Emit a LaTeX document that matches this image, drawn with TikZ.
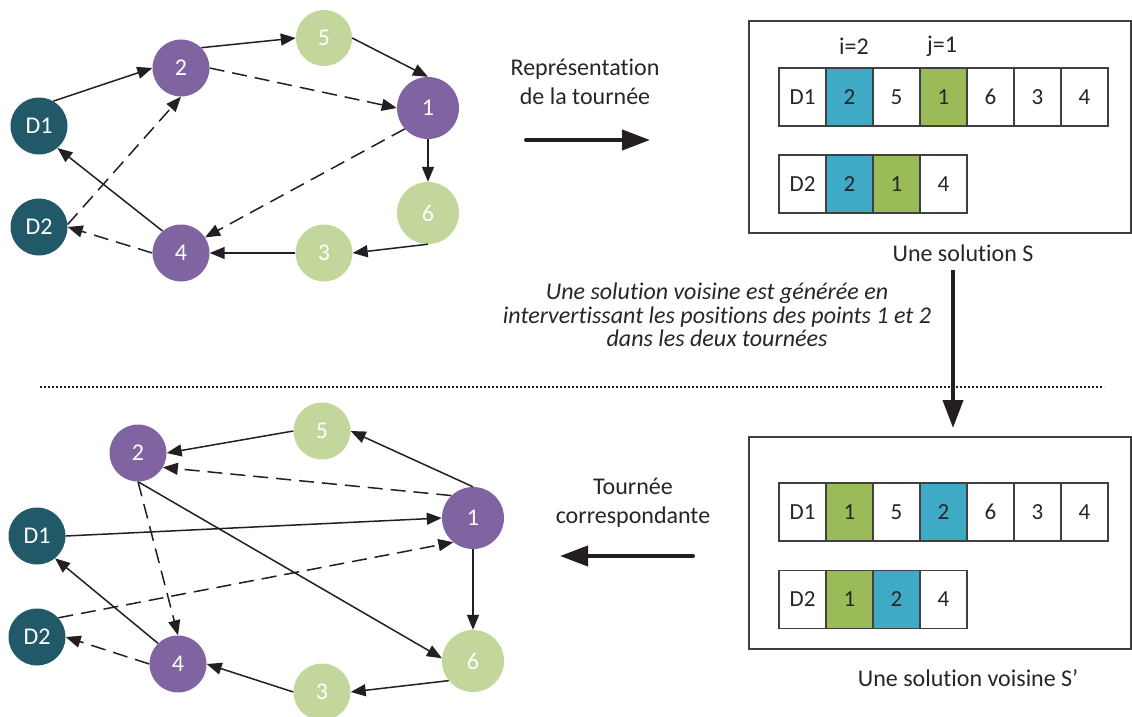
\documentclass[tikz,border=0pt]{standalone}
\usepackage{fontspec}
\setmainfont{Carlito}[Ligatures={NoCommon,NoRare,NoContextual}]
\usetikzlibrary{arrows.meta}
\definecolor{purp}{HTML}{8064A2}
\definecolor{lgreen}{HTML}{C3D69B}
\definecolor{dteal}{HTML}{215968}
\definecolor{cblue}{HTML}{3FAAC6}
\definecolor{cgreen}{HTML}{9BBB59}
\definecolor{ink}{HTML}{231F20}
\definecolor{txt}{HTML}{262626}
\definecolor{frm}{HTML}{404040}
\begin{document}
\begin{tikzpicture}[x=1pt,y=-1pt,
  vert/.style={circle,fill=#1,text=white,inner sep=0pt,font=\fontsize{24}{29}\selectfont},
  small/.style={minimum size=57pt},
  big/.style={minimum size=62pt},
  edge/.style={draw=ink,line width=1.5pt,-{Triangle[length=15pt,width=12pt]}},
  dedge/.style={edge,dash pattern=on 15pt off 8pt},
  cell/.style={draw=frm,line width=1.1pt,minimum width=47pt,minimum height=58pt,inner sep=0pt,font=\fontsize{23}{28}\selectfont,text=txt},
  frame/.style={draw=frm,line width=1.3pt,inner sep=0pt},
  lbl/.style={text=txt,font=\fontsize{24}{29}\selectfont,align=center,inner sep=0pt},
  note/.style={text=txt,font=\itshape\fontsize{24}{23.5}\selectfont,align=center,inner sep=0pt},
  bigarrow/.style={draw=ink,line width=4pt,line cap=round,-{Triangle[length=28pt,width=20pt]}},
  sep/.style={draw=ink,line width=1.2pt,dash pattern=on 2pt off 2pt}]
\useasboundingbox (0,0) rectangle (1132,717);
\clip (0,0) rectangle (1132,717);
% ---------- top graph ----------
\node[vert=dteal,small] (tD1) at (39,126) {D1};
\node[vert=dteal,small] (tD2) at (39,227) {D2};
\node[vert=purp,small] (t2) at (181,68) {2};
\node[vert=lgreen,minimum size=56pt] (t5) at (324,38) {5};
\node[vert=purp,big] (t1) at (428,108) {1};
\node[vert=lgreen,big] (t6) at (428,213) {6};
\node[vert=lgreen,small] (t3) at (324,253) {3};
\node[vert=purp,small] (t4) at (181,253) {4};
\draw[edge] (tD1.60) -- (t2.west);
\draw[edge] (t2.45) -- (t5.west);
\draw[edge] (t5.east) -- (t1.north);
\draw[edge] (t1.south) -- (t6.north);
\draw[edge] (t6.south) -- (t3.east);
\draw[edge] (t3.west) -- (t4.east);
\draw[edge] (t4.130) -- (tD1.-50);
\draw[dedge] (t2.east) -- (t1.west);
\draw[dedge] (t1.222) -- (t4.33);
\draw[dedge] (t4.west) -- (tD2.east);
\draw[dedge] (tD2.5) -- (t2.south);
% ---------- bottom graph ----------
\node[vert=dteal,small] (bD1) at (37,536) {D1};
\node[vert=dteal,small] (bD2) at (37,637) {D2};
\node[vert=purp,small] (b2) at (138,453) {2};
\node[vert=lgreen,small] (b5) at (322,431) {5};
\node[vert=purp,big] (b1) at (473,518) {1};
\node[vert=lgreen,big] (b6) at (473,661) {6};
\node[vert=lgreen,small] (b3) at (322,692) {3};
\node[vert=purp,small] (b4) at (178,664) {4};
\draw[edge] (bD1.east) -- (b1.west);
\draw[edge] (b1.north) -- (b5.east);
\draw[edge] (b5.west) -- (b2.east);
\draw[edge] (b2.south) -- (b6.175);
\draw[edge] (b1.south) -- (b6.north);
\draw[edge] (b6.219) -- (b3.east);
\draw[edge] (b3.west) -- (b4.east);
\draw[edge] (b4.134) -- (bD1.-51);
\draw[dedge] (bD2.42) -- (b1.231);
\draw[dedge] (b1.134) -- (b2.-30);
\draw[dedge] (b2.south) -- (b4.north);
\draw[dedge] (b4.west) -- (bD2.east);
% ---------- top solution ----------
\node[frame,minimum width=382pt,minimum height=212pt] (boxS) at (940,127) {};
\node[lbl,text=txt] (li) at (854,46) {i=2};
\node[lbl,text=txt] (lj) at (942,46) {j=1};
\foreach \t/\c [count=\k] in {D1/white,2/cblue,5/white,1/cgreen,6/white,3/white,4/white}
  \node[cell,fill=\c] (sa\k) at ({779+47*(\k-0.5)},97) {\t};
\foreach \t/\c [count=\k] in {D2/white,2/cblue,1/cgreen,4/white}
  \node[cell,fill=\c] (sb\k) at ({779+47*(\k-0.5)},184) {\t};
\node[lbl] (labS) at (963,253) {Une solution S};
% ---------- bottom solution ----------
\node[frame,minimum width=382pt,minimum height=212pt] (boxT) at (940,543) {};
\foreach \t/\c [count=\k] in {D1/white,1/cgreen,5/white,2/cblue,6/white,3/white,4/white}
  \node[cell,fill=\c] (ta\k) at ({779+47*(\k-0.5)},512) {\t};
\foreach \t/\c [count=\k] in {D2/white,1/cgreen,2/cblue,4/white}
  \node[cell,fill=\c] (tb\k) at ({779+47*(\k-0.5)},599.5) {\t};
\node[lbl] (labT) at (968,678) {Une solution voisine S’};
% ---------- texts and arrows ----------
\node[lbl] (rep) at (585,82) {Représentation\\de la tournée};
\coordinate (r1) at (526,140);
\coordinate (r2) at (650,140);
\draw[bigarrow] (r1) -- (r2);
\node[lbl] (tc) at (633,503) {Tournée\\correspondante};
\coordinate (c1) at (693,556);
\coordinate (c2) at (560,556);
\draw[bigarrow] (c1) -- (c2);
\node[note] (nt) at (717,315) {Une solution voisine est générée en\\intervertissant les positions des points 1 et 2\\dans les deux tournées};
\coordinate (v1) at (953,270);
\coordinate (v2) at (953,428);
\draw[bigarrow,line cap=butt] (v1) -- (v2);
\coordinate (s1) at (40,387);
\coordinate (s2) at (1104,387);
\draw[sep] (s1) -- (s2);
\end{tikzpicture}
\end{document}
